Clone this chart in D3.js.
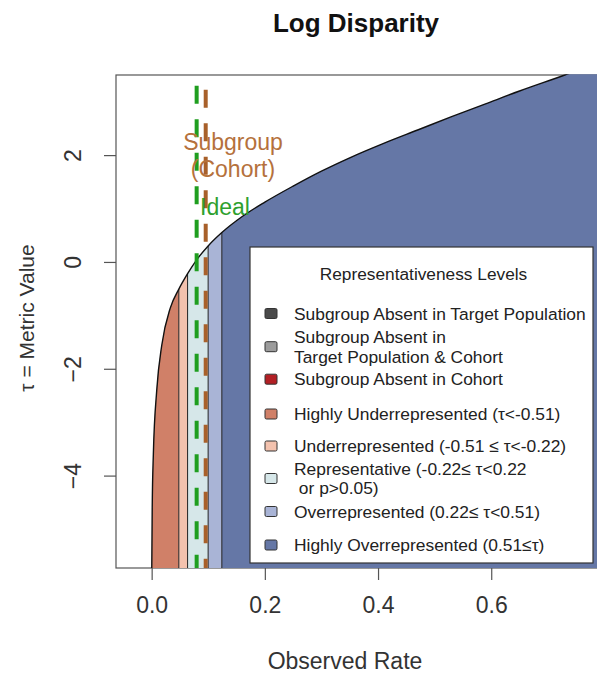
<!DOCTYPE html>
<html><head><meta charset="utf-8">
<script src="https://cdn.jsdelivr.net/npm/d3@7"></script>
<style>
body{margin:0;background:#fff}
svg{display:block}
text{font-family:"Liberation Sans",Arial,Helvetica,sans-serif}
</style>
</head><body>
<svg id="c" width="597" height="673"></svg>
<script>
// ---------- data ----------
const curveX   = [0.0002, 0.001, 0.003, 0.009, 0.018, 0.033, 0.048, 0.0635, 0.0795, 0.0998, 0.124, 0.16, 0.20, 0.25, 0.30, 0.35, 0.41, 0.47, 0.53, 0.59, 0.65, 0.73, 0.83];
const curveTau = [-5.73, -4.6, -3.6, -2.4, -1.55, -0.86, -0.51, -0.22, 0.04, 0.30, 0.55, 0.85, 1.12, 1.42, 1.70, 1.95, 2.22, 2.47, 2.72, 2.96, 3.20, 3.50, 3.90];
const bandEdges  = [0, 0.048, 0.0635, 0.0998, 0.124, 0.83];
const bandColors = ["#d08068", "#f3c2ae", "#d6e7e9", "#a9b4d6", "#6577a6"];
const idealRate  = 0.0795;
const cohortRate = 0.0955;
const refLineTop = 3.3;
const xTicks = [0, 0.2, 0.4, 0.6];
const yTicks = [-4, -2, 0, 2];
const legendTitle = "Representativeness Levels";
const legendLabels = [
  ["Subgroup Absent in Target Population"],
  ["Subgroup Absent in", "Target Population & Cohort"],
  ["Subgroup Absent in Cohort"],
  ["Highly Underrepresented (τ<-0.51)"],
  ["Underrepresented (-0.51 ≤ τ<-0.22)"],
  ["Representative (-0.22≤ τ<0.22", " or p>0.05)"],
  ["Overrepresented (0.22≤ τ<0.51)"],
  ["Highly Overrepresented (0.51≤τ)"]
];
const legendColors = ["#4a4a4a", "#9c9c9c", "#b21f24", "#d08068", "#f3c2ae", "#d6e7e9", "#a9b4d6", "#6577a6"];

// ---------- layout ----------
const svg = d3.select("#c");
const P = {left:116, top:75, bottom:568, right:621.4};
const x = d3.scaleLinear().domain([-0.063, 0.83]).range([P.left, P.right]);
const y = d3.scaleLinear().domain([-5.73, 3.5]).range([P.bottom, P.top]);
const tauAt = d3.scaleLinear().domain(curveX).range(curveTau).clamp(true);
const FONT = 23;

const defs = svg.append("defs");
defs.append("clipPath").attr("id","clip")
  .append("rect").attr("x",P.left).attr("y",P.top-0.8).attr("width",P.right-P.left).attr("height",P.bottom-P.top+0.8);

// title
svg.append("text").attr("x",356).attr("y",32).attr("text-anchor","middle")
  .attr("font-size",26).attr("font-weight","bold").attr("fill","#111").text("Log Disparity");

// box
svg.append("rect").attr("x",P.left).attr("y",P.top).attr("width",P.right-P.left).attr("height",P.bottom-P.top)
  .attr("fill","none").attr("stroke","#555").attr("stroke-width",1.2);

const g = svg.append("g").attr("clip-path","url(#clip)");
const pts = curveX.map((d,i)=>[d,curveTau[i]]);
const area = d3.area().x(d=>x(d[0])).y0(y(y.domain()[0])).y1(d=>y(d[1])).curve(d3.curveMonotoneX);
const line = d3.line().x(d=>x(d[0])).y(d=>y(d[1])).curve(d3.curveMonotoneX);

// bands: area under the full curve, clipped to each band
bandColors.forEach((col,i)=>{
  const x0 = bandEdges[i], x1 = bandEdges[i+1];
  defs.append("clipPath").attr("id","band"+i).append("rect")
    .attr("x",x(x0)).attr("y",0).attr("width",x(x1)-x(x0)).attr("height",P.bottom+2);
  g.append("path").attr("d",area(pts)).attr("fill",col).attr("clip-path",`url(#band${i})`);
});
// band borders
bandEdges.slice(0,-1).forEach(e=>{
  g.append("line").attr("x1",x(e)).attr("x2",x(e)).attr("y1",P.bottom).attr("y2",y(tauAt(e)))
    .attr("stroke","#222").attr("stroke-width",1);
});

// curve
g.append("path").attr("d", line(pts)).attr("fill","none").attr("stroke","#111").attr("stroke-width",1.4);

// reference lines
[[idealRate,"#1f9e1f",0],[cohortRate,"#a8602a",4]].forEach(([v,col,off])=>{
  g.append("line").attr("x1",x(v)).attr("x2",x(v)).attr("y1",y(refLineTop)+off).attr("y2",P.bottom)
    .attr("stroke",col).attr("stroke-width",4).attr("stroke-dasharray","18,15.5");
});

// labels
svg.append("text").attr("x",233).attr("y",150).attr("text-anchor","middle").attr("font-size",FONT)
  .attr("fill","#b5713c").text("Subgroup");
svg.append("text").attr("x",233).attr("y",177).attr("text-anchor","middle").attr("font-size",FONT)
  .attr("fill","#b5713c").text("(Cohort)");
svg.append("text").attr("x",225).attr("y",215).attr("text-anchor","middle").attr("font-size",FONT)
  .attr("fill","#2ea02e").text("Ideal");

// legend
const L = {x:250, y:247, w:343, h:316};
const lg = svg.append("g");
lg.append("rect").attr("x",L.x).attr("y",L.y).attr("width",L.w).attr("height",L.h)
  .attr("fill","#fff").attr("stroke","#333").attr("stroke-width",1.2);
lg.append("text").attr("x",L.x+L.w/2+2).attr("y",280).attr("text-anchor","middle")
  .attr("font-size",17.3).attr("fill","#222").text(legendTitle);
const itemCenters = [313.5, 346.7, 379.2, 414, 446, 478.5, 511.5, 545];
legendLabels.forEach((lines,i)=>{
  const cy = itemCenters[i];
  lg.append("rect").attr("x",265).attr("y",cy-5).attr("width",12).attr("height",10).attr("rx",1.5)
    .attr("fill",legendColors[i]).attr("stroke","#333").attr("stroke-width",1);
  lines.forEach((t,j)=>{
    const ly = cy + (j - (lines.length-1)/2)*19.4;
    lg.append("text").attr("x",294).attr("y",ly).attr("dy","0.36em").attr("font-size",17.4)
      .attr("fill","#222").attr("xml:space","preserve").style("white-space","pre").text(t);
  });
});

// axes
const xa = svg.append("g").attr("transform",`translate(0,${P.bottom})`)
  .call(d3.axisBottom(x).tickValues(xTicks).tickFormat(d3.format(".1f")).tickSize(12));
xa.select(".domain").remove();
xa.selectAll("line").attr("stroke","#555").attr("stroke-width",1.2);
xa.selectAll("text").attr("y",45).attr("dy",0).attr("font-size",FONT).attr("fill","#333")
  .attr("font-family","Liberation Sans, Arial, sans-serif");

const ya = svg.append("g").attr("transform",`translate(${P.left},0)`)
  .call(d3.axisLeft(y).tickValues(yTicks).tickFormat(d3.format("d")).tickSize(12));
ya.select(".domain").remove();
ya.selectAll("line").attr("stroke","#555").attr("stroke-width",1.2);
ya.selectAll("text").attr("x",0).attr("y",0).attr("dy",0).attr("text-anchor","middle")
  .attr("transform",`translate(${81-P.left},0) rotate(-90)`)
  .attr("font-size",FONT).attr("fill","#333").attr("font-family","Liberation Sans, Arial, sans-serif");

svg.append("text").attr("x",345).attr("y",669).attr("text-anchor","middle").attr("font-size",FONT)
  .attr("fill","#333").text("Observed Rate");
svg.append("text").attr("transform","translate(34,318) rotate(-90)").attr("text-anchor","middle")
  .attr("font-size",21).attr("fill","#333").text("τ = Metric Value");
</script>
</body></html>
